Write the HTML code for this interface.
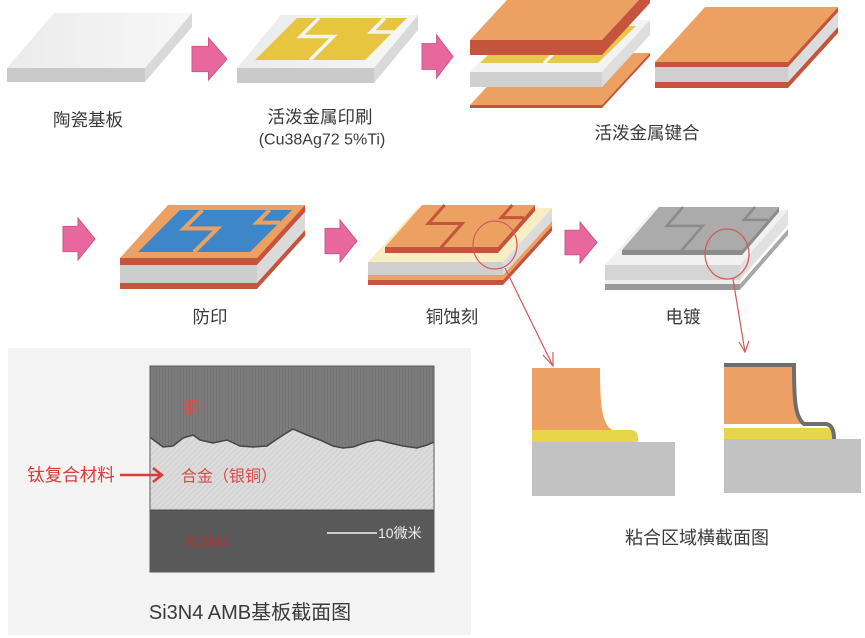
<!DOCTYPE html>
<html>
<head>
<meta charset="utf-8">
<style>
  html,body{margin:0;padding:0;background:#ffffff;}
  svg{display:block;}
  .lb{font-family:"Liberation Sans","Noto Sans CJK SC",sans-serif;fill:#3a3a3a;}
</style>
</head>
<body>
<svg width="865" height="638" viewBox="0 0 865 638" xmlns="http://www.w3.org/2000/svg">
  <defs>
    <pattern id="cuStripe" width="3" height="6" patternUnits="userSpaceOnUse">
      <rect width="3" height="6" fill="#7c7c7c"/>
      <rect width="1" height="6" fill="#747474"/>
    </pattern>
    <pattern id="alloyHatch" width="4" height="4" patternUnits="userSpaceOnUse" patternTransform="rotate(45)">
      <rect width="4" height="4" fill="#dcdcdc"/>
      <rect width="1" height="4" fill="#cdcdcd"/>
    </pattern>
    <linearGradient id="ceramTop" x1="0" y1="0" x2="1" y2="0">
      <stop offset="0" stop-color="#ebebeb"/>
      <stop offset="1" stop-color="#f7f7f7"/>
    </linearGradient>
  </defs>

  <!-- ============ TOP ROW ============ -->
  <polygon points="7,68 145,68 192,13 54,13" fill="url(#ceramTop)"/>
  <polygon points="7,68 145,68 145,82 7,82" fill="#c9c9c9"/>
  <polygon points="145,68 192,13 192,27 145,82" fill="#d9d9d9"/>

  <path d="M192,46.4 L208.5,46.4 L208.5,38 L227,59 L208.5,80 L208.5,71.6 L192,71.6 Z" fill="#e8689d" stroke="#c95888" stroke-width="1"/>

  <polygon points="237,68 374,68 418,15 281,15" fill="url(#ceramTop)"/>
  <polygon points="237,68 374,68 374,83 237,83" fill="#cacaca"/>
  <polygon points="374,68 418,15 418,30 374,83" fill="#d9d9d9"/>
  <polygon points="255,60 365,60 407,18 297,18" fill="#e8c53e"/>
  <polyline points="319,18 300.5,36.5 333.5,36.5 310,60" fill="none" stroke="#f4f4f4" stroke-width="3.5"/>
  <polyline points="385,18 371,32 394,32" fill="none" stroke="#f4f4f4" stroke-width="3.5"/>

  <path d="M422,43.6 L436.6,43.6 L436.6,35 L453,56.5 L436.6,78 L436.6,69.4 L422,69.4 Z" fill="#e8689d" stroke="#c95888" stroke-width="1"/>

  <!-- bottom copper -->
  <polygon points="470,105 602,105 650,53 518,53" fill="#eca163"/>
  <polygon points="470,105 602,105 602,108 470,108" fill="#c4553c"/>
  <polygon points="602,105 650,53 650,56 602,108" fill="#c4553c"/>
  <!-- ceramic -->
  <polygon points="470,72 602,72 650,20 518,20" fill="#f3f3f3"/>
  <polygon points="470,72 602,72 602,87 470,87" fill="#d0d0d0"/>
  <polygon points="602,72 650,20 650,35 602,87" fill="#dedede"/>
  <polygon points="480,63 598,63 636,26 518,26" fill="#e8c849"/>
  <line x1="544" y1="63" x2="582" y2="26" stroke="#f3f3f3" stroke-width="3"/>
  <!-- top copper -->
  <polygon points="470,40 602,40 650,-12 518,-12" fill="#eca163"/>
  <polygon points="470,40 602,40 602,55 470,55" fill="#c4553c"/>
  <polygon points="602,40 650,-12 650,3 602,55" fill="#c4553c"/>

  <!-- Bonded plate -->
  <polygon points="655,62 788,62 838,7 705,7" fill="#eca163"/>
  <polygon points="655,62 788,62 788,67 655,67" fill="#c4553c"/>
  <polygon points="655,67 788,67 788,82 655,82" fill="#cfcfcf"/>
  <polygon points="655,82 788,82 788,88 655,88" fill="#c4553c"/>
  <polygon points="788,62 838,7 838,12 788,67" fill="#c4553c"/>
  <polygon points="788,67 838,12 838,27 788,82" fill="#dcdcdc"/>
  <polygon points="788,82 838,27 838,33 788,88" fill="#c4553c"/>

  <!-- ============ MIDDLE ROW ============ -->
  <path d="M63,226.4 L78,226.4 L78,218 L95,239 L78,260 L78,251.6 L63,251.6 Z" fill="#e8689d" stroke="#c95888" stroke-width="1"/>

  <polygon points="120,258 257,258 305,205 168,205" fill="#eca163"/>
  <polygon points="120,258 257,258 257,265 120,265" fill="#c4553c"/>
  <polygon points="120,265 257,265 257,283 120,283" fill="#cdcdcd"/>
  <polygon points="120,283 257,283 257,289 120,289" fill="#c4553c"/>
  <polygon points="257,258 305,205 305,212 257,265" fill="#c4553c"/>
  <polygon points="257,265 305,212 305,230 257,283" fill="#dadada"/>
  <polygon points="257,283 305,230 305,236 257,289" fill="#c4553c"/>
  <polygon points="138,252 250,252 292,210 180,210" fill="#3d87c8"/>
  <polyline points="202.4,210 183.9,228.5 217.5,228.5 194,252" fill="none" stroke="#eca163" stroke-width="4"/>
  <polyline points="269.6,210 257,222.6 280,222.6" fill="none" stroke="#eca163" stroke-width="4"/>

  <path d="M325,228.4 L340,228.4 L340,220 L357,241 L340,262 L340,253.6 L325,253.6 Z" fill="#e8689d" stroke="#c95888" stroke-width="1"/>

  <!-- 铜蚀刻 plate -->
  <polygon points="368,262 503,262 552,208 417,208" fill="#f8eec6"/>
  <polygon points="368,262 503,262 503,275 368,275" fill="#cfcfcf"/>
  <polygon points="368,275 503,275 503,280 368,280" fill="#eca163"/>
  <polygon points="368,280 503,280 503,285 368,285" fill="#c4553c"/>
  <polygon points="503,262 552,208 552,221 503,275" fill="#dcdcdc"/>
  <polygon points="503,275 552,221 552,226 503,280" fill="#eca163"/>
  <polygon points="503,280 552,226 552,231 503,285" fill="#c4553c"/>
  <polygon points="385,247 498,247 535,205 422,205" fill="#eca163"/>
  <polygon points="385,247 498,247 498,253 385,253" fill="#c4553c"/>
  <polygon points="498,247 535,205 535,211 498,253" fill="#c4553c"/>
  <polyline points="444.6,205 428.3,223.5 462.2,223.5 441.5,247 441.5,253" fill="none" stroke="#c4553c" stroke-width="3"/>
  <polyline points="512.4,205 501.3,217.6 524,217.6" fill="none" stroke="#c4553c" stroke-width="3"/>
  <ellipse cx="495" cy="245" rx="22" ry="24" fill="none" stroke="#d45a5a" stroke-width="1.2"/>

  <path d="M565,230.2 L580,230.2 L580,222 L597,242.5 L580,263 L580,254.8 L565,254.8 Z" fill="#e8689d" stroke="#c95888" stroke-width="1"/>

  <!-- 电镀 plate -->
  <polygon points="605,265 740,265 788,210 653,210" fill="#f1f1f1"/>
  <polygon points="605,265 740,265 740,280 605,280" fill="#d5d5d5"/>
  <polygon points="605,280 740,280 740,284 605,284" fill="#eeeeee"/>
  <polygon points="605,284 740,284 740,290 605,290" fill="#9a9a9a"/>
  <polygon points="740,265 788,210 788,225 740,280" fill="#e1e1e1"/>
  <polygon points="740,284 788,229 788,235 740,290" fill="#a8a8a8"/>
  <polygon points="622,250 742,250 779,207 659,207" fill="#ababab"/>
  <polygon points="622,250 742,250 742,255 622,255" fill="#8c8c8c"/>
  <polygon points="742,250 779,207 779,212 742,255" fill="#8c8c8c"/>
  <polyline points="683,207 666.7,225.9 702.7,225.9 682,250 682,255" fill="none" stroke="#8a8a8a" stroke-width="2.5"/>
  <polyline points="755,207 743.9,219.9 768,219.9" fill="none" stroke="#8a8a8a" stroke-width="2.5"/>
  <ellipse cx="727" cy="254" rx="22" ry="25" fill="none" stroke="#d45a5a" stroke-width="1.2"/>

  <!-- Leader lines -->
  <line x1="505" y1="268" x2="553" y2="366" stroke="#d45a5a" stroke-width="1.2"/>
  <polyline points="543,355 553,366 553,352" fill="none" stroke="#d45a5a" stroke-width="1.2"/>
  <line x1="733" y1="279" x2="745" y2="352" stroke="#d45a5a" stroke-width="1.2"/>
  <polyline points="739,342 745,352 749,341" fill="none" stroke="#d45a5a" stroke-width="1.2"/>

  <!-- ============ BOTTOM RIGHT ============ -->
  <rect x="532" y="442" width="143" height="54" fill="#c2c2c2"/>
  <path d="M532,430 H630 Q638,430 638,438 V442 H532 Z" fill="#e8d64a"/>
  <path d="M532,368 H600 C600,405 602,424 612,430 H532 Z" fill="#eca063"/>

  <rect x="724" y="439" width="137" height="54" fill="#c2c2c2"/>
  <path d="M724,428 H826 Q834,428 834,436 V439 H724 Z" fill="#e8d64a"/>
  <path d="M724,366 H793 C793,402 795,418 802,424 H724 Z" fill="#eca063"/>
  <path d="M724,365 H794 C794,400 795,417 804,424 H826 Q834,425 834,439" fill="none" stroke="#6e6e6e" stroke-width="4"/>

  <!-- ============ BOTTOM LEFT ============ -->
  <rect x="8" y="348" width="463" height="287" fill="#f3f3f3"/>
  <rect x="150" y="430" width="284" height="80" fill="url(#alloyHatch)"/>
  <path d="M150,366 H434 V442 L427,445 L417,448 L403,446 L390,443 L378,440 L367,442 L353,447 L343,448 L333,446 L320,440 L307,435 L293,429 L280,437 L267,446 L253,447 L240,446 L227,440 L213,443 L200,440 L193,435 L183,438 L173,446 L163,447 L151,438 L150,438 Z" fill="url(#cuStripe)"/>
  <polyline points="150,438 151,438 163,447 173,446 183,438 193,435 200,440 213,443 227,440 240,446 253,447 267,446 280,437 293,429 307,435 320,440 333,446 343,448 353,447 367,442 378,440 390,443 403,446 417,448 427,445 434,442" fill="none" stroke="#454545" stroke-width="1.5"/>
  <rect x="150" y="510" width="284" height="62" fill="#595959"/>
  <line x1="150" y1="510" x2="434" y2="510" stroke="#4a4a4a" stroke-width="1"/>
  <rect x="150" y="366" width="284" height="206" fill="none" stroke="#5a5a5a" stroke-width="1"/>

  <text x="191" y="408" font-size="17" fill="#e04c4c" text-anchor="middle" dominant-baseline="central" font-family="Liberation Sans, Noto Sans CJK SC, sans-serif">铜</text>
  <text x="229" y="477" font-size="16" fill="#d94a4a" text-anchor="middle" dominant-baseline="central" font-family="Liberation Sans, Noto Sans CJK SC, sans-serif">合金（银铜）</text>
  <text x="207" y="542" font-size="17" fill="#a83a3a" text-anchor="middle" dominant-baseline="central" font-family="Liberation Sans, Noto Sans CJK SC, sans-serif">Si3N4</text>
  <line x1="327" y1="533" x2="377" y2="533" stroke="#f2f2f2" stroke-width="1.5"/>
  <text x="378" y="533" font-size="14" fill="#eeeeee" dominant-baseline="central" font-family="Liberation Sans, Noto Sans CJK SC, sans-serif">10微米</text>

  <text x="71" y="475" font-size="17.5" fill="#d93a3a" text-anchor="middle" dominant-baseline="central" font-family="Liberation Sans, Noto Sans CJK SC, sans-serif">钛复合材料</text>
  <line x1="120" y1="475" x2="161" y2="475" stroke="#d93a3a" stroke-width="2.5"/>
  <polyline points="153,468 162,475 153,482" fill="none" stroke="#d93a3a" stroke-width="2.5"/>

  <!-- ============ LABELS ============ -->
  <text class="lb" x="88" y="120" font-size="17.5" text-anchor="middle" dominant-baseline="central">陶瓷基板</text>
  <text class="lb" x="320" y="117" font-size="17.5" text-anchor="middle" dominant-baseline="central">活泼金属印刷</text>
  <text class="lb" x="322" y="140" font-size="16" text-anchor="middle" dominant-baseline="central">(Cu38Ag72 5%Ti)</text>
  <text class="lb" x="647" y="133" font-size="17.5" text-anchor="middle" dominant-baseline="central">活泼金属键合</text>
  <text class="lb" x="210" y="317" font-size="17.5" text-anchor="middle" dominant-baseline="central">防印</text>
  <text class="lb" x="452" y="317" font-size="17.5" text-anchor="middle" dominant-baseline="central">铜蚀刻</text>
  <text class="lb" x="683" y="317" font-size="17.5" text-anchor="middle" dominant-baseline="central">电镀</text>
  <text class="lb" x="697" y="538" font-size="18" text-anchor="middle" dominant-baseline="central">粘合区域横截面图</text>
  <text class="lb" x="250" y="613" font-size="20" text-anchor="middle" dominant-baseline="central">Si3N4 AMB基板截面图</text>
</svg>
</body>
</html>
